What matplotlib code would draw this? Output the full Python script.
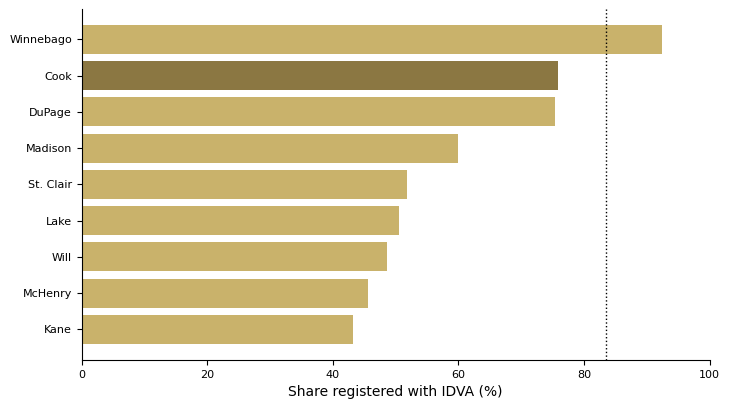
import matplotlib
matplotlib.use("Agg")
import matplotlib.pyplot as plt

counties = ["Winnebago", "Cook", "DuPage", "Madison", "St. Clair", "Lake", "Will", "McHenry", "Kane"]
shares = [92.5, 75.9, 75.4, 60.0, 51.8, 50.6, 48.6, 45.6, 43.2]
highlight = "Cook"
reference_value = 83.5

base_color = "#C9B26B"
hi_color = "#8B7742"

fig, ax = plt.subplots(figsize=(7.3, 4.09), dpi=100)
colors = [hi_color if c == highlight else base_color for c in counties]
ypos = list(range(len(counties)))
ax.barh(ypos, shares, color=colors, height=0.8)
ax.set_yticks(ypos)
ax.set_yticklabels(counties, fontsize=8)
ax.invert_yaxis()
ax.axvline(reference_value, color="black", linestyle=":", linewidth=1)
ax.set_xlim(0, 100)
ax.tick_params(axis="x", labelsize=8)
ax.set_xlabel("Share registered with IDVA (%)", fontsize=10)
ax.spines["top"].set_visible(False)
ax.spines["right"].set_visible(False)
fig.subplots_adjust(left=0.112, right=0.972, top=0.978, bottom=0.12)
fig.savefig("out.png", dpi=100)
